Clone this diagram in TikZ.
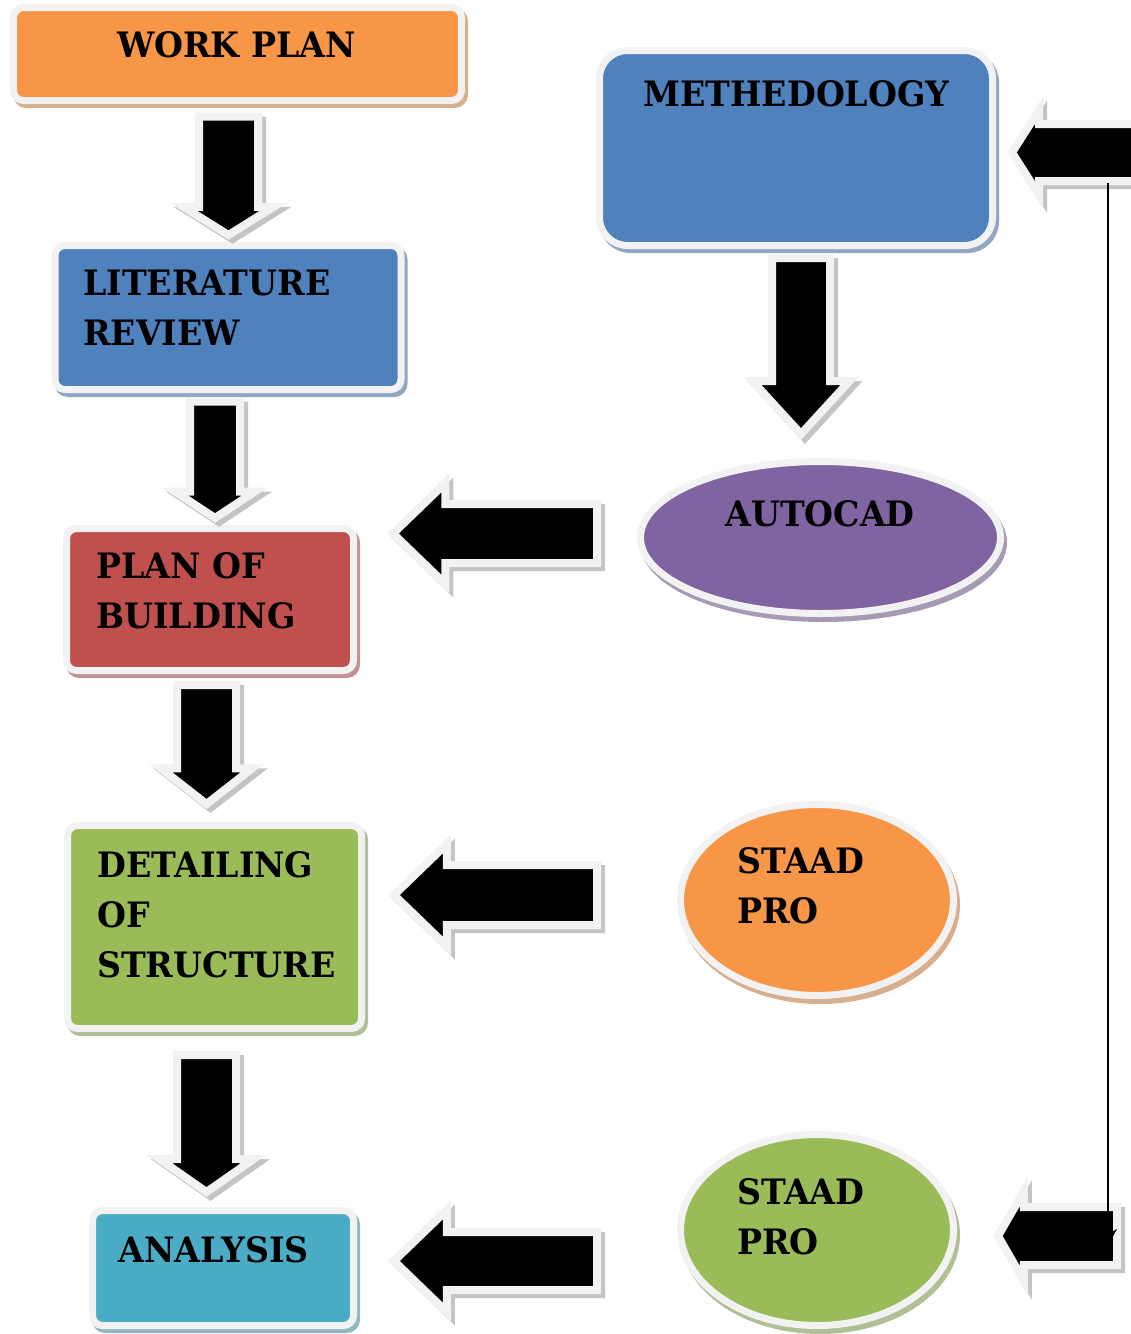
\documentclass[tikz,border=0pt]{standalone}
\usepackage{fontspec}
\setmainfont{DejaVu Serif}[FakeStretch=0.95]
\usepackage{tikz}
\usetikzlibrary{shapes.geometric,shapes.arrows,arrows.meta}

\definecolor{rim}{HTML}{F2F2F2}
\definecolor{orng}{HTML}{F79646}
\definecolor{blu}{HTML}{4F81BD}
\definecolor{rd}{HTML}{C0504D}
\definecolor{grn}{HTML}{9BBB59}
\definecolor{cyn}{HTML}{4BACC6}
\definecolor{prpl}{HTML}{8064A2}
\definecolor{shd}{HTML}{C4C4C4}

\newcommand{\lblfont}{\fontsize{35}{50}\selectfont\bfseries}

\tikzset{
  box/.style={draw=rim, line width=7pt, fill=#1, rounded corners=10pt, inner sep=0pt,
    preaction={draw=#1!60!gray!70!white, fill=#1!60!gray!70!white,
      transform canvas={xshift=3pt,yshift=-4pt}}},
  oval/.style={ellipse, draw=rim, line width=7pt, fill=#1, inner sep=0pt,
    preaction={draw=#1!60!gray!70!white, fill=#1!60!gray!70!white,
      transform canvas={xshift=3pt,yshift=-5pt}}},
  blk/.style={single arrow, single arrow head indent=0pt, draw=rim, fill=black,
    line width=8pt, miter limit=25, inner sep=0pt, outer sep=0pt, anchor=tip,
    preaction={draw=shd, fill=shd, transform canvas={xshift=4pt,yshift=-4pt}}},
  lbl/.style={inner sep=0pt, align=left, font=\lblfont},
}

\begin{document}
\begin{tikzpicture}[x=1pt,y=-1pt]
\useasboundingbox (0,0) rectangle (1131,1334);

% left column
\node[box=orng, minimum width=448pt, minimum height=93pt] (wp) at (237.5,54) {};
\node[box=blu, minimum width=346pt, minimum height=144pt] (lit) at (228,317.5) {};
\node[box=rd, minimum width=287pt, minimum height=142pt] (plan) at (210,599.5) {};
\node[box=grn, minimum width=294pt, minimum height=203pt] (det) at (214.5,927) {};
\node[box=cyn, minimum width=261pt, minimum height=115pt] (ana) at (223,1268) {};

% right column
\node[box=blu, rounded corners=28pt, minimum width=393pt, minimum height=195pt] (meth) at (796,148) {};
\node[oval=prpl, minimum width=360pt, minimum height=152pt] (acad) at (820.5,537.5) {};
\node[oval=orng, minimum width=273pt, minimum height=191pt] (sp1) at (817,900) {};
\node[oval=grn, minimum width=273pt, minimum height=191pt] (sp2) at (817,1230) {};

% down arrows (placed by their tips)
\node[blk, rotate=270, minimum height=118.5pt, inner ysep=25.5pt, single arrow head extend=15.5pt, single arrow tip angle=116] (a1) at (228.5,235) {};
\node[blk, rotate=270, minimum height=116.5pt, inner ysep=21pt, single arrow head extend=15pt, single arrow tip angle=113] (a2) at (215,518) {};
\node[blk, rotate=270, minimum height=119pt, inner ysep=25.5pt, single arrow head extend=16pt, single arrow tip angle=104] (a3) at (206.5,804) {};
\node[blk, rotate=270, minimum height=137pt, inner ysep=25.5pt, single arrow head extend=17.5pt, single arrow tip angle=110] (a4) at (206.5,1192) {};
\node[blk, rotate=270, minimum height=176pt, inner ysep=25pt, single arrow head extend=19.5pt, single arrow tip angle=85] (am) at (801,434) {};

% left arrows
\node[blk, rotate=180, minimum height=204pt, inner ysep=25.5pt, single arrow head extend=21pt, single arrow tip angle=88] (l1) at (393,533.5) {};
\node[blk, rotate=180, minimum height=203pt, inner ysep=26pt, single arrow head extend=21pt, single arrow tip angle=88] (l2) at (394,895) {};
\node[blk, rotate=180, minimum height=203pt, inner ysep=25pt, single arrow head extend=22pt, single arrow tip angle=88] (l3) at (394,1261) {};
\node[blk, rotate=180, minimum height=124pt, inner ysep=24.5pt, single arrow head extend=14pt, single arrow tip angle=115] (rt) at (1012,152.5) {};
\node[blk, rotate=180, minimum height=119pt, inner ysep=25pt, single arrow head extend=16pt, single arrow tip angle=120] (rb) at (998,1236) {};

% feedback line
\coordinate (fbtop) at (1108,183);
\coordinate (fbend) at (1108,1245);
\draw[line width=2pt,-{Stealth[length=16pt,width=18pt]}] (fbtop)--(fbend);

% labels
\node[lbl] (wp-t) at (236.5,44.5) {WORK PLAN};
\node[lbl, anchor=north west] (lit-t) at (83,270) {LITERATURE\\REVIEW};
\node[lbl, anchor=north west] (plan-t) at (96,552) {PLAN OF\\BUILDING};
\node[lbl, anchor=north west] (det-t) at (97,851) {DETAILING\\OF\\STRUCTURE};
\node[lbl] (ana-t) at (213.5,1250) {ANALYSIS};
\node[lbl] (meth-t) at (796.5,94) {METHEDOLOGY};
\node[lbl] (acad-t) at (820,514) {AUTOCAD};
\node[lbl, anchor=north west] (sp1-t) at (737,847) {STAAD\\PRO};
\node[lbl, anchor=north west] (sp2-t) at (737,1178) {STAAD\\PRO};

\end{tikzpicture}
\end{document}
